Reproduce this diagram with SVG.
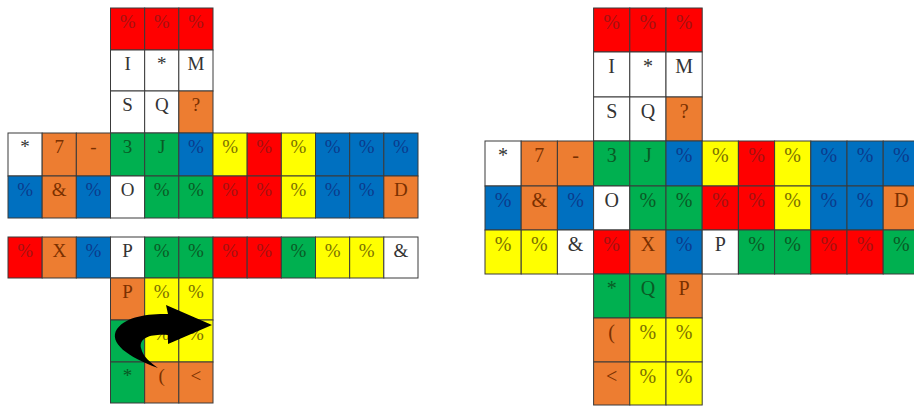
<svg xmlns="http://www.w3.org/2000/svg" width="914" height="407" viewBox="0 0 914 407">
<style>
.c{stroke:#3a3a3a;stroke-width:1}
g rect{stroke:#3a3a3a;stroke-width:1}
text{font-family:"Liberation Serif","Times New Roman",serif;text-anchor:middle}
#left text{font-size:19px}
#right text{font-size:20px}
.r rect{fill:#ff0000}.r text{fill:#a31212}
.o rect{fill:#ed7d31}.o text{fill:#7a3000}
.b rect{fill:#0070c0}.b text{fill:#0b3b8c}
.g rect{fill:#00b050}.g text{fill:#0a5a25}
.y rect{fill:#ffff00}.y text{fill:#7a7000}
.w rect{fill:#ffffff}.w text{fill:#333333}
</style>
<rect x="0" y="0" width="914" height="407" style="fill:#fff;stroke:none"/>
<g id="left">
<g id="L-t1" class="r"><rect x="110.5" y="8" width="34.17" height="42"/><text x="127.58" y="28">%</text></g>
<g id="L-t2" class="r"><rect x="144.67" y="8" width="34.17" height="42"/><text x="161.75" y="28">%</text></g>
<g id="L-t3" class="r"><rect x="178.83" y="8" width="34.17" height="42"/><text x="195.92" y="28">%</text></g>
<g id="L-t4" class="w"><rect x="110.5" y="50" width="34.17" height="41"/><text x="127.58" y="70">I</text></g>
<g id="L-t5" class="w"><rect x="144.67" y="50" width="34.17" height="41"/><text x="161.75" y="70">*</text></g>
<g id="L-t6" class="w"><rect x="178.83" y="50" width="34.17" height="41"/><text x="195.92" y="70">M</text></g>
<g id="L-t7" class="w"><rect x="110.5" y="91" width="34.17" height="42"/><text x="127.58" y="111">S</text></g>
<g id="L-t8" class="w"><rect x="144.67" y="91" width="34.17" height="42"/><text x="161.75" y="111">Q</text></g>
<g id="L-t9" class="o"><rect x="178.83" y="91" width="34.17" height="42"/><text x="195.92" y="111">?</text></g>
<g id="L-a1" class="w"><rect x="8" y="133" width="34.17" height="43"/><text x="25.08" y="153">*</text></g>
<g id="L-a2" class="o"><rect x="42.17" y="133" width="34.17" height="43"/><text x="59.25" y="153">7</text></g>
<g id="L-a3" class="o"><rect x="76.33" y="133" width="34.17" height="43"/><text x="93.42" y="153">-</text></g>
<g id="L-a4" class="g"><rect x="110.5" y="133" width="34.17" height="43"/><text x="127.58" y="153">3</text></g>
<g id="L-a5" class="g"><rect x="144.67" y="133" width="34.17" height="43"/><text x="161.75" y="153">J</text></g>
<g id="L-a6" class="b"><rect x="178.83" y="133" width="34.17" height="43"/><text x="195.92" y="153">%</text></g>
<g id="L-a7" class="y"><rect x="213" y="133" width="34.17" height="43"/><text x="230.08" y="153">%</text></g>
<g id="L-a8" class="r"><rect x="247.17" y="133" width="34.17" height="43"/><text x="264.25" y="153">%</text></g>
<g id="L-a9" class="y"><rect x="281.33" y="133" width="34.17" height="43"/><text x="298.42" y="153">%</text></g>
<g id="L-a10" class="b"><rect x="315.5" y="133" width="34.17" height="43"/><text x="332.58" y="153">%</text></g>
<g id="L-a11" class="b"><rect x="349.67" y="133" width="34.17" height="43"/><text x="366.75" y="153">%</text></g>
<g id="L-a12" class="b"><rect x="383.83" y="133" width="34.17" height="43"/><text x="400.92" y="153">%</text></g>
<g id="L-b1" class="b"><rect x="8" y="176" width="34.17" height="42"/><text x="25.08" y="196">%</text></g>
<g id="L-b2" class="o"><rect x="42.17" y="176" width="34.17" height="42"/><text x="59.25" y="196">&amp;</text></g>
<g id="L-b3" class="b"><rect x="76.33" y="176" width="34.17" height="42"/><text x="93.42" y="196">%</text></g>
<g id="L-b4" class="w"><rect x="110.5" y="176" width="34.17" height="42"/><text x="127.58" y="196">O</text></g>
<g id="L-b5" class="g"><rect x="144.67" y="176" width="34.17" height="42"/><text x="161.75" y="196">%</text></g>
<g id="L-b6" class="g"><rect x="178.83" y="176" width="34.17" height="42"/><text x="195.92" y="196">%</text></g>
<g id="L-b7" class="r"><rect x="213" y="176" width="34.17" height="42"/><text x="230.08" y="196">%</text></g>
<g id="L-b8" class="r"><rect x="247.17" y="176" width="34.17" height="42"/><text x="264.25" y="196">%</text></g>
<g id="L-b9" class="y"><rect x="281.33" y="176" width="34.17" height="42"/><text x="298.42" y="196">%</text></g>
<g id="L-b10" class="b"><rect x="315.5" y="176" width="34.17" height="42"/><text x="332.58" y="196">%</text></g>
<g id="L-b11" class="b"><rect x="349.67" y="176" width="34.17" height="42"/><text x="366.75" y="196">%</text></g>
<g id="L-b12" class="o"><rect x="383.83" y="176" width="34.17" height="42"/><text x="400.92" y="196">D</text></g>
<g id="L-c1" class="r"><rect x="8" y="237" width="34.17" height="41"/><text x="25.08" y="257">%</text></g>
<g id="L-c2" class="o"><rect x="42.17" y="237" width="34.17" height="41"/><text x="59.25" y="257">X</text></g>
<g id="L-c3" class="b"><rect x="76.33" y="237" width="34.17" height="41"/><text x="93.42" y="257">%</text></g>
<g id="L-c4" class="w"><rect x="110.5" y="237" width="34.17" height="41"/><text x="127.58" y="257">P</text></g>
<g id="L-c5" class="g"><rect x="144.67" y="237" width="34.17" height="41"/><text x="161.75" y="257">%</text></g>
<g id="L-c6" class="g"><rect x="178.83" y="237" width="34.17" height="41"/><text x="195.92" y="257">%</text></g>
<g id="L-c7" class="r"><rect x="213" y="237" width="34.17" height="41"/><text x="230.08" y="257">%</text></g>
<g id="L-c8" class="r"><rect x="247.17" y="237" width="34.17" height="41"/><text x="264.25" y="257">%</text></g>
<g id="L-c9" class="g"><rect x="281.33" y="237" width="34.17" height="41"/><text x="298.42" y="257">%</text></g>
<g id="L-c10" class="y"><rect x="315.5" y="237" width="34.17" height="41"/><text x="332.58" y="257">%</text></g>
<g id="L-c11" class="y"><rect x="349.67" y="237" width="34.17" height="41"/><text x="366.75" y="257">%</text></g>
<g id="L-c12" class="w"><rect x="383.83" y="237" width="34.17" height="41"/><text x="400.92" y="257">&amp;</text></g>
<g id="L-d1" class="o"><rect x="110.5" y="278" width="34.17" height="42"/><text x="127.58" y="298">P</text></g>
<g id="L-d2" class="y"><rect x="144.67" y="278" width="34.17" height="42"/><text x="161.75" y="298">%</text></g>
<g id="L-d3" class="y"><rect x="178.83" y="278" width="34.17" height="42"/><text x="195.92" y="298">%</text></g>
<g id="L-d4" class="g"><rect x="110.5" y="320" width="34.17" height="42"/></g>
<g id="L-d5" class="y"><rect x="144.67" y="320" width="34.17" height="42"/><text x="161.75" y="340">%</text></g>
<g id="L-d6" class="y"><rect x="178.83" y="320" width="34.17" height="42"/><text x="195.92" y="340">%</text></g>
<g id="L-d7" class="g"><rect x="110.5" y="362" width="34.17" height="41"/><text x="127.58" y="382">*</text></g>
<g id="L-d8" class="o"><rect x="144.67" y="362" width="34.17" height="41"/><text x="161.75" y="382">(</text></g>
<g id="L-d9" class="o"><rect x="178.83" y="362" width="34.17" height="41"/><text x="195.92" y="382">&lt;</text></g>
</g>
<g id="right">
<g id="R-t1" class="r"><rect x="593.6" y="8" width="36.2" height="44"/><text x="611.7" y="29">%</text></g>
<g id="R-t2" class="r"><rect x="629.8" y="8" width="36.2" height="44"/><text x="647.9" y="29">%</text></g>
<g id="R-t3" class="r"><rect x="666" y="8" width="36.2" height="44"/><text x="684.1" y="29">%</text></g>
<g id="R-t4" class="w"><rect x="593.6" y="52" width="36.2" height="45"/><text x="611.7" y="73">I</text></g>
<g id="R-t5" class="w"><rect x="629.8" y="52" width="36.2" height="45"/><text x="647.9" y="73">*</text></g>
<g id="R-t6" class="w"><rect x="666" y="52" width="36.2" height="45"/><text x="684.1" y="73">M</text></g>
<g id="R-t7" class="w"><rect x="593.6" y="97" width="36.2" height="44"/><text x="611.7" y="118">S</text></g>
<g id="R-t8" class="w"><rect x="629.8" y="97" width="36.2" height="44"/><text x="647.9" y="118">Q</text></g>
<g id="R-t9" class="o"><rect x="666" y="97" width="36.2" height="44"/><text x="684.1" y="118">?</text></g>
<g id="R-a1" class="w"><rect x="485" y="141" width="36.2" height="45"/><text x="503.1" y="162">*</text></g>
<g id="R-a2" class="o"><rect x="521.2" y="141" width="36.2" height="45"/><text x="539.3" y="162">7</text></g>
<g id="R-a3" class="o"><rect x="557.4" y="141" width="36.2" height="45"/><text x="575.5" y="162">-</text></g>
<g id="R-a4" class="g"><rect x="593.6" y="141" width="36.2" height="45"/><text x="611.7" y="162">3</text></g>
<g id="R-a5" class="g"><rect x="629.8" y="141" width="36.2" height="45"/><text x="647.9" y="162">J</text></g>
<g id="R-a6" class="b"><rect x="666" y="141" width="36.2" height="45"/><text x="684.1" y="162">%</text></g>
<g id="R-a7" class="y"><rect x="702.2" y="141" width="36.2" height="45"/><text x="720.3" y="162">%</text></g>
<g id="R-a8" class="r"><rect x="738.4" y="141" width="36.2" height="45"/><text x="756.5" y="162">%</text></g>
<g id="R-a9" class="y"><rect x="774.6" y="141" width="36.2" height="45"/><text x="792.7" y="162">%</text></g>
<g id="R-a10" class="b"><rect x="810.8" y="141" width="36.2" height="45"/><text x="828.9" y="162">%</text></g>
<g id="R-a11" class="b"><rect x="847" y="141" width="36.2" height="45"/><text x="865.1" y="162">%</text></g>
<g id="R-a12" class="b"><rect x="883.2" y="141" width="36.2" height="45"/><text x="901.3" y="162">%</text></g>
<g id="R-b1" class="b"><rect x="485" y="186" width="36.2" height="44"/><text x="503.1" y="207">%</text></g>
<g id="R-b2" class="o"><rect x="521.2" y="186" width="36.2" height="44"/><text x="539.3" y="207">&amp;</text></g>
<g id="R-b3" class="b"><rect x="557.4" y="186" width="36.2" height="44"/><text x="575.5" y="207">%</text></g>
<g id="R-b4" class="w"><rect x="593.6" y="186" width="36.2" height="44"/><text x="611.7" y="207">O</text></g>
<g id="R-b5" class="g"><rect x="629.8" y="186" width="36.2" height="44"/><text x="647.9" y="207">%</text></g>
<g id="R-b6" class="g"><rect x="666" y="186" width="36.2" height="44"/><text x="684.1" y="207">%</text></g>
<g id="R-b7" class="r"><rect x="702.2" y="186" width="36.2" height="44"/><text x="720.3" y="207">%</text></g>
<g id="R-b8" class="r"><rect x="738.4" y="186" width="36.2" height="44"/><text x="756.5" y="207">%</text></g>
<g id="R-b9" class="y"><rect x="774.6" y="186" width="36.2" height="44"/><text x="792.7" y="207">%</text></g>
<g id="R-b10" class="b"><rect x="810.8" y="186" width="36.2" height="44"/><text x="828.9" y="207">%</text></g>
<g id="R-b11" class="b"><rect x="847" y="186" width="36.2" height="44"/><text x="865.1" y="207">%</text></g>
<g id="R-b12" class="o"><rect x="883.2" y="186" width="36.2" height="44"/><text x="901.3" y="207">D</text></g>
<g id="R-c1" class="y"><rect x="485" y="230" width="36.2" height="44"/><text x="503.1" y="251">%</text></g>
<g id="R-c2" class="y"><rect x="521.2" y="230" width="36.2" height="44"/><text x="539.3" y="251">%</text></g>
<g id="R-c3" class="w"><rect x="557.4" y="230" width="36.2" height="44"/><text x="575.5" y="251">&amp;</text></g>
<g id="R-c4" class="r"><rect x="593.6" y="230" width="36.2" height="44"/><text x="611.7" y="251">%</text></g>
<g id="R-c5" class="o"><rect x="629.8" y="230" width="36.2" height="44"/><text x="647.9" y="251">X</text></g>
<g id="R-c6" class="b"><rect x="666" y="230" width="36.2" height="44"/><text x="684.1" y="251">%</text></g>
<g id="R-c7" class="w"><rect x="702.2" y="230" width="36.2" height="44"/><text x="720.3" y="251">P</text></g>
<g id="R-c8" class="g"><rect x="738.4" y="230" width="36.2" height="44"/><text x="756.5" y="251">%</text></g>
<g id="R-c9" class="g"><rect x="774.6" y="230" width="36.2" height="44"/><text x="792.7" y="251">%</text></g>
<g id="R-c10" class="r"><rect x="810.8" y="230" width="36.2" height="44"/><text x="828.9" y="251">%</text></g>
<g id="R-c11" class="r"><rect x="847" y="230" width="36.2" height="44"/><text x="865.1" y="251">%</text></g>
<g id="R-c12" class="g"><rect x="883.2" y="230" width="36.2" height="44"/><text x="901.3" y="251">%</text></g>
<g id="R-d1" class="g"><rect x="593.6" y="274" width="36.2" height="44"/><text x="611.7" y="295">*</text></g>
<g id="R-d2" class="g"><rect x="629.8" y="274" width="36.2" height="44"/><text x="647.9" y="295">Q</text></g>
<g id="R-d3" class="o"><rect x="666" y="274" width="36.2" height="44"/><text x="684.1" y="295">P</text></g>
<g id="R-d4" class="o"><rect x="593.6" y="318" width="36.2" height="44"/><text x="611.7" y="339">(</text></g>
<g id="R-d5" class="y"><rect x="629.8" y="318" width="36.2" height="44"/><text x="647.9" y="339">%</text></g>
<g id="R-d6" class="y"><rect x="666" y="318" width="36.2" height="44"/><text x="684.1" y="339">%</text></g>
<g id="R-d7" class="o"><rect x="593.6" y="362" width="36.2" height="43"/><text x="611.7" y="383">&lt;</text></g>
<g id="R-d8" class="y"><rect x="629.8" y="362" width="36.2" height="43"/><text x="647.9" y="383">%</text></g>
<g id="R-d9" class="y"><rect x="666" y="362" width="36.2" height="43"/><text x="684.1" y="383">%</text></g>
</g>
<g id="connectors">
<path d="M158 368 C128 357 108 343 117 329 C127 316 147 314 168 314 L166 305 L212 325 L168 344 L168 335 C152 334 139 337 141 348 C143 357 151 363 158 368 Z" fill="#000"/>
</g>
</svg>
